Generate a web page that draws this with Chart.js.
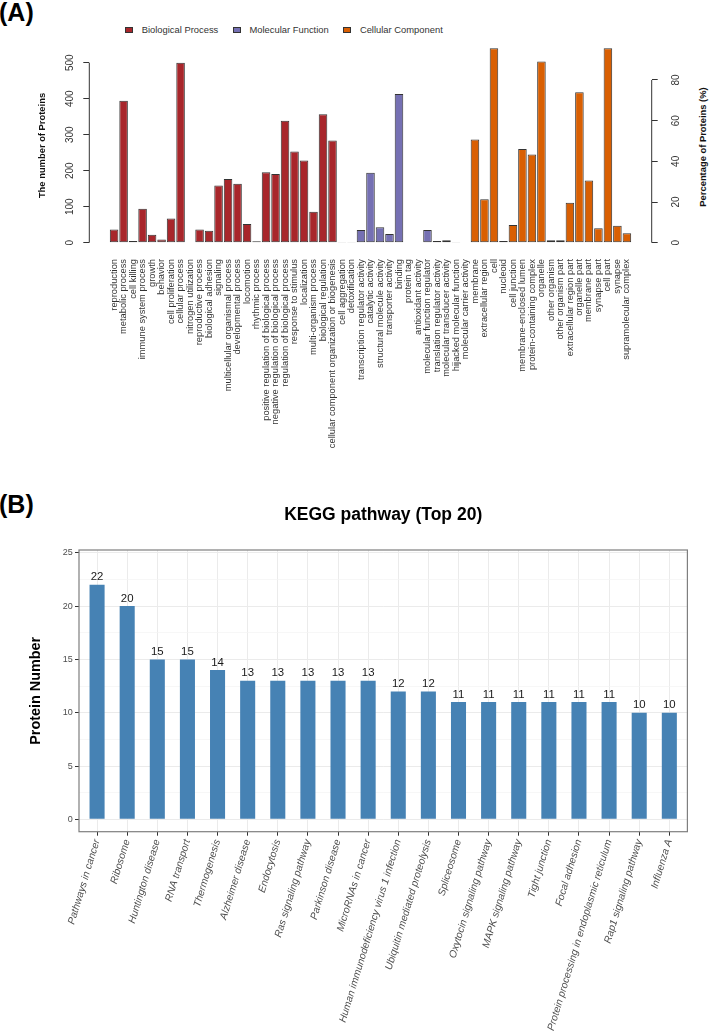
<!DOCTYPE html>
<html lang="en">
<head>
<meta charset="UTF-8">
<title>GO annotation and KEGG pathway</title>
<script src="https://cdn.jsdelivr.net/npm/chart.js@4.4.0/dist/chart.umd.min.js"></script>
<style>
  * { box-sizing: border-box; }
  body { margin:0; width:709px; height:1032px; position:relative; background:#fff; overflow:hidden;
         font-family:"Liberation Sans", Arial, sans-serif; }
  canvas { position:absolute; left:0; }
  #goChart { top:0; }
  #keggChart { top:480px; }
  .tag { position:absolute; left:-1px; font-weight:bold; font-size:25px; line-height:25px; color:#000; }
  .legend { position:absolute; left:125px; top:24.3px; height:12px; display:flex; align-items:center;
            font-size:9.4px; line-height:12px; color:#333; white-space:nowrap; }
  .legend .sw { display:inline-block; width:8px; height:6px; border:1px solid #333; margin-right:8.7px; }
  .legend .lab { margin-right:14.5px; }
  .ytitle2 { position:absolute; left:603px; top:140.5px; width:200px; text-align:center; font-weight:bold;
             font-size:9.4px; line-height:12px; color:#111; transform:rotate(-90deg); white-space:nowrap; }
</style>
</head>
<body>
  <div class="tag" style="top:0">(A)</div>
  <div class="legend">
    <span class="sw" style="background:#A8262B"></span><span class="lab">Biological Process</span>
    <span class="sw" style="background:#7570B3"></span><span class="lab">Molecular Function</span>
    <span class="sw" style="background:#D95F02"></span><span>Cellular Component</span>
  </div>
  <div class="ytitle2">Percentage of Proteins (%)</div>
  <canvas id="goChart" width="709" height="480"></canvas>

  <div class="tag" style="top:492px">(B)</div>
  <canvas id="keggChart" width="709" height="552"></canvas>

<script>
// ---- GO annotation (A) ----
const bpNames = ['reproduction', 'metabolic process', 'cell killing', 'immune system process', 'growth', 'behavior',
  'cell proliferation', 'cellular process', 'nitrogen utilization', 'reproductive process', 'biological adhesion',
  'signaling', 'multicellular organismal process', 'developmental process', 'locomotion', 'rhythmic process',
  'positive regulation of biological process', 'negative regulation of biological process',
  'regulation of biological process', 'response to stimulus', 'localization', 'multi-organism process',
  'biological regulation', 'cellular component organization or biogenesis', 'cell aggregation', 'detoxification'];
const bpCounts = [37, 394, 5, 94, 22, 9, 67, 500, 1, 37, 33, 159, 177, 164, 52, 4, 196, 191, 339, 253, 228, 86, 357, 284, 2, 2];

const mfNames = ['transcription regulator activity', 'catalytic activity', 'structural molecule activity',
  'transporter activity', 'binding', 'protein tag', 'antioxidant activity', 'molecular function regulator',
  'translation regulator activity', 'molecular transducer activity', 'hijacked molecular function',
  'molecular carrier activity'];
const mfCounts = [35, 194, 43, 24, 413, 1, 1, 35, 5, 7, 2, 1];

const ccNames = ['membrane', 'extracellular region', 'cell', 'nucleoid', 'cell junction', 'membrane-enclosed lumen',
  'protein-containing complex', 'organelle', 'other organism', 'other organism part', 'extracellular region part',
  'organelle part', 'membrane part', 'synapse part', 'cell part', 'synapse', 'supramolecular complex'];
const ccCounts = [287, 121, 540, 5, 49, 260, 245, 503, 7, 7, 111, 418, 173, 40, 540, 47, 26];

const countTicks = [0, 100, 200, 300, 400, 500];
const pctTicks = [0, 20, 40, 60, 80];
const totalProteins = 565;

// ---- KEGG top 20 (B) ----
const keggNames = ['Pathways in cancer', 'Ribosome', 'Huntington disease', 'RNA transport', 'Thermogenesis',
  'Alzheimer disease', 'Endocytosis', 'Ras signaling pathway', 'Parkinson disease', 'MicroRNAs in cancer',
  'Human immunodeficiency virus 1 infection', 'Ubiquitin mediated proteolysis', 'Spliceosome',
  'Oxytocin signaling pathway', 'MAPK signaling pathway', 'Tight junction', 'Focal adhesion',
  'Protein processing in endoplasmic reticulum', 'Rap1 signaling pathway', 'Influenza A'];
const keggCounts = [22, 20, 15, 15, 14, 13, 13, 13, 13, 13, 12, 12, 11, 11, 11, 11, 11, 11, 10, 10];
const keggTicks = [0, 5, 10, 15, 20, 25];
const keggMinor = [2.5, 7.5, 12.5, 17.5, 22.5];

Chart.defaults.font.family = '"Liberation Sans", Arial, sans-serif';

// barplot layout like R: bar width 1, space 0.2, axes extended by 4%
const goNames = [...bpNames, ...mfNames, ...ccNames];
const slot = i => 0.7 + 1.2 * i;
const toPoints = (counts, from) => counts.map((v, i) => ({ x: slot(from + i), y: v }));
const xLo = 0.2, xHi = 1.2 * goNames.length;
const xPad = 0.04 * (xHi - xLo);
const yTop = Math.max(...bpCounts, ...mfCounts, ...ccCounts);
const yLo = -0.04 * yTop, yHi = 1.04 * yTop;
const pct = v => v / totalProteins * 100;

// R-style axis lines, only from first to last tick
const axisLines = {
  id: 'axisLines',
  afterDraw(chart) {
    const { ctx, chartArea, scales } = chart;
    ctx.save();
    ctx.strokeStyle = '#333';
    ctx.lineWidth = 1;
    ctx.beginPath();
    ctx.moveTo(chartArea.left, scales.y.getPixelForValue(countTicks[0]));
    ctx.lineTo(chartArea.left, scales.y.getPixelForValue(countTicks[countTicks.length - 1]));
    ctx.moveTo(chartArea.right, scales.y2.getPixelForValue(pctTicks[0]));
    ctx.lineTo(chartArea.right, scales.y2.getPixelForValue(pctTicks[pctTicks.length - 1]));
    ctx.stroke();
    ctx.restore();
  }
};

const barStyle = { borderColor: '#333', borderWidth: 1, borderSkipped: false, grouped: false,
  categoryPercentage: 1, barPercentage: 0.9 };

new Chart(document.getElementById('goChart'), {
  type: 'bar',
  data: {
    datasets: [
      { label: 'Biological Process', data: toPoints(bpCounts, 0), backgroundColor: '#A8262B', ...barStyle },
      { label: 'Molecular Function', data: toPoints(mfCounts, bpCounts.length), backgroundColor: '#7570B3', ...barStyle },
      { label: 'Cellular Component', data: toPoints(ccCounts, bpCounts.length + mfCounts.length), backgroundColor: '#D95F02', ...barStyle }
    ]
  },
  plugins: [axisLines],
  options: {
    responsive: false,
    animation: false,
    layout: { padding: { top: 40.5, left: 0, right: 0, bottom: 0 } },
    plugins: { legend: { display: false }, tooltip: { enabled: false } },
    scales: {
      x: {
        type: 'linear', bounds: 'data', offset: false, min: xLo - xPad, max: xHi + xPad,
        afterBuildTicks: s => { s.ticks = goNames.map((_, i) => ({ value: slot(i) })); },
        afterFit: s => { s.height = 229.5; },
        grid: { display: false, drawTicks: false, offset: false },
        border: { display: false },
        ticks: { autoSkip: false, minRotation: 90, maxRotation: 90, padding: 8.5, color: '#333',
                 font: { size: 9.3 }, callback: (v, i) => goNames[i] }
      },
      y: {
        position: 'left', min: yLo, max: yHi,
        afterBuildTicks: s => { s.ticks = countTicks.map(v => ({ value: v })); },
        afterFit: s => { s.width = 89.3; },
        grid: { drawOnChartArea: false, drawTicks: true, tickLength: 6, tickColor: '#333' },
        border: { display: false },
        ticks: { minRotation: 90, maxRotation: 90, crossAlign: 'center', padding: 5, color: '#333', font: { size: 10 } },
        title: { display: true, text: 'The number of Proteins', color: '#111',
                 font: { size: 9.4, weight: 'bold' }, padding: { top: 36.4, bottom: 0 } }
      },
      y2: {
        position: 'right', min: pct(yLo), max: pct(yHi),
        afterBuildTicks: s => { s.ticks = pctTicks.map(v => ({ value: v })); },
        afterFit: s => { s.width = 57.3; },
        grid: { drawOnChartArea: false, drawTicks: true, tickLength: 6, tickColor: '#333' },
        border: { display: false },
        ticks: { minRotation: 90, maxRotation: 90, crossAlign: 'center', padding: 12.7, color: '#333', font: { size: 10 } }
      }
    }
  }
});

// ggplot-like panel border and value labels
const panelBorder = {
  id: 'panelBorder',
  afterDraw(chart) {
    const { ctx, chartArea: a } = chart;
    ctx.save();
    ctx.strokeStyle = '#7f7f7f';
    ctx.lineWidth = 1.2;
    ctx.strokeRect(a.left, a.top, a.right - a.left, a.bottom - a.top);
    ctx.restore();
  }
};
const valueLabels = {
  id: 'valueLabels',
  afterDatasetsDraw(chart) {
    const { ctx } = chart;
    ctx.save();
    ctx.font = '11.4px "Liberation Sans", Arial, sans-serif';
    ctx.fillStyle = '#1a1a1a';
    ctx.textAlign = 'center';
    ctx.textBaseline = 'alphabetic';
    chart.getDatasetMeta(0).data.forEach((bar, i) => {
      ctx.fillText(String(keggCounts[i]), bar.x, bar.y - 4.3);
    });
    ctx.restore();
  }
};

const isMajor = c => c.tick && keggTicks.includes(c.tick.value);

new Chart(document.getElementById('keggChart'), {
  type: 'bar',
  data: {
    datasets: [{
      label: 'Protein Number',
      data: keggCounts.map((v, i) => ({ x: i + 1, y: v })),
      backgroundColor: '#4682B4',
      categoryPercentage: 1,
      barPercentage: 0.5
    }]
  },
  plugins: [panelBorder, valueLabels],
  options: {
    responsive: false,
    animation: false,
    layout: { padding: { top: 0, left: 0, right: 21.6, bottom: 0 } },
    plugins: {
      legend: { display: false },
      tooltip: { enabled: false },
      title: { display: true, text: 'KEGG pathway (Top 20)', fullSize: false, color: '#000',
               font: { size: 17.5, weight: 'bold' }, padding: { top: 24.5, bottom: 24.5 } }
    },
    scales: {
      x: {
        type: 'linear', bounds: 'data', offset: false, min: 0.4, max: keggNames.length + 0.6,
        afterBuildTicks: s => { s.ticks = keggNames.map((_, i) => ({ value: i + 1 })); },
        afterFit: s => { s.height = 200.3; },
        grid: { color: '#EBEBEB', tickColor: '#333', tickLength: 4, offset: false },
        border: { display: false },
        ticks: { autoSkip: false, minRotation: 73, maxRotation: 73, padding: 2.3, color: '#4D4D4D',
                 font: { size: 10.2, style: 'italic' }, callback: (v, i) => keggNames[i] }
      },
      y: {
        min: -1.16, max: 25.26,
        afterBuildTicks: s => { s.ticks = [...keggTicks, ...keggMinor].sort((a, b) => a - b).map(v => ({ value: v })); },
        afterFit: s => { s.width = 79; },
        grid: {
          color: c => isMajor(c) ? '#EBEBEB' : '#F3F3F3',
          lineWidth: c => isMajor(c) ? 1 : 0.7,
          tickColor: c => isMajor(c) ? '#333' : 'rgba(0,0,0,0)',
          tickLength: 4
        },
        border: { display: false },
        ticks: { padding: 2.3, color: '#4D4D4D', font: { size: 9 },
                 callback: v => keggTicks.includes(v) ? String(v) : '' },
        title: { display: true, text: 'Protein Number', color: '#000',
                 font: { size: 14.4, weight: 'bold' }, padding: { top: 26.9, bottom: 0 } }
      }
    }
  }
});
</script>
</body>
</html>
